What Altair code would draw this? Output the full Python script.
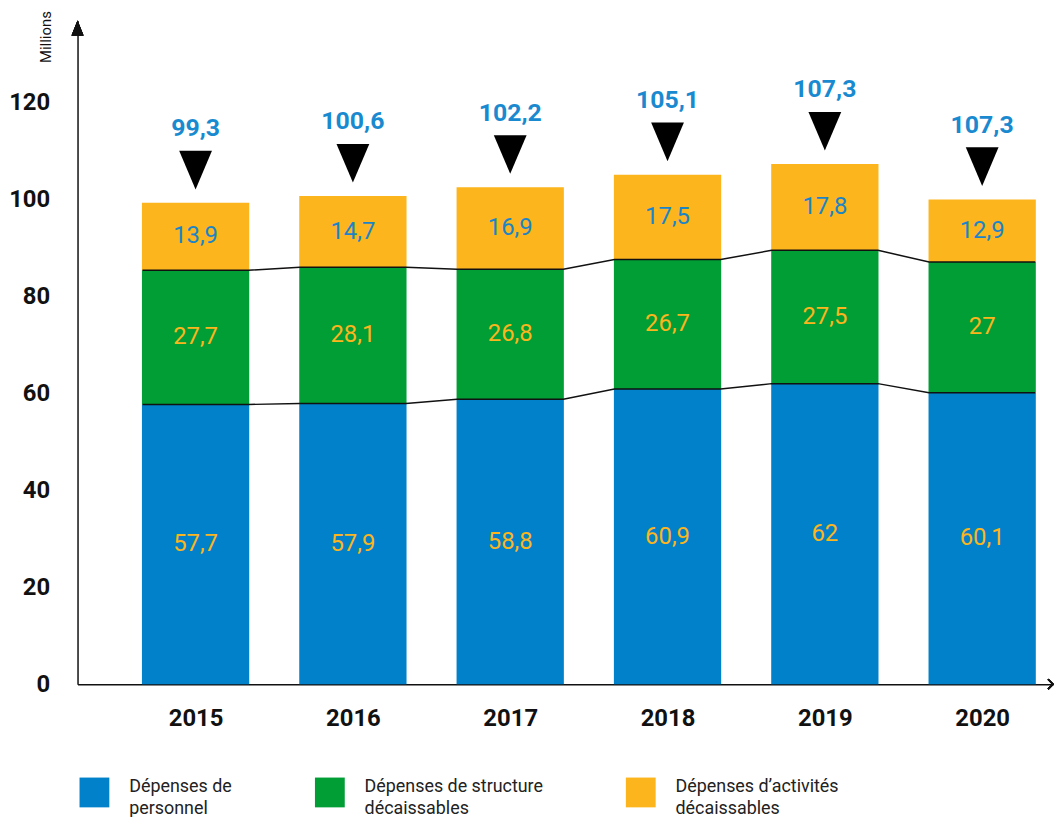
import altair as alt
import pandas as pd

FONT = "Roboto, Liberation Sans, sans-serif"

years = ["2015", "2016", "2017", "2018", "2019", "2020"]
personnel = [57.7, 57.9, 58.8, 60.9, 62.0, 60.1]
structure = [27.7, 28.1, 26.8, 26.7, 27.5, 27.0]
activites = [13.9, 14.7, 16.9, 17.5, 17.8, 12.9]
totaux = [99.3, 100.6, 102.2, 105.1, 107.3, 107.3]
categories = ["Dépenses de|personnel",
              "Dépenses de structure|décaissables",
              "Dépenses d’activités|décaissables"]
colors = ["#0081c9", "#009e35", "#fcb51c"]
label_colors = ["#fcb51c", "#fcb51c", "#1a84c8"]
ytick_values = [0, 20, 40, 60, 80, 100, 120]

HALF = 0.3375  # half bar width in index units (bar width / step)


def fr(v):
    return f"{v:g}".replace(".", ",")


series = [personnel, structure, activites]
rows = []
for i, y in enumerate(years):
    lo = 0.0
    for k, cat in enumerate(categories):
        v = series[k][i]
        hi = lo + v
        rows.append(dict(year=y, idx=i, cat=cat, lo=lo, hi=hi, mid=(lo + hi) / 2,
                         label=fr(v), lcolor=label_colors[k], order=k))
        lo = hi
bars_df = pd.DataFrame(rows)

line_rows = []
for i in range(len(years)):
    c1 = personnel[i]
    c2 = personnel[i] + structure[i]
    for e in (-HALF, HALF):
        line_rows.append(dict(x=i + e, y1=c1, y2=c2))
lines_df = pd.DataFrame(line_rows)

top_df = pd.DataFrame(dict(
    idx=list(range(len(years))),
    top=[personnel[i] + structure[i] + activites[i] for i in range(len(years))],
    label=[fr(t) for t in totaux],
))

xscale = alt.Scale(domain=[-0.71875, 5.41875], nice=False, zero=False)
yscale = alt.Scale(domain=[0, 668 / 4.88], nice=False)

xaxis = alt.Axis(values=list(range(len(years))), labelExpr=f"{years}[datum.value]",
                 title=None, ticks=False, grid=False, labelFontSize=24,
                 labelFontWeight="bold", labelPadding=23, labelColor="#111",
                 domainColor="#111", domainWidth=1.5)
yaxis = alt.Axis(values=ytick_values, title="Millions", ticks=False, grid=False,
                 labelFontSize=24, labelFontWeight="bold", labelPadding=28,
                 labelColor="#111", domainColor="#111", domainWidth=1.5,
                 titleAngle=270, titleAlign="right", titleBaseline="alphabetic",
                 titleX=-27, titleY=-10, titleFontSize=15, titleFontWeight="normal",
                 titleColor="#111")

bars = alt.Chart(bars_df).mark_bar(width=108).encode(
    x=alt.X("idx:Q", scale=xscale, axis=xaxis),
    y=alt.Y("lo:Q", scale=yscale, axis=yaxis),
    y2="hi:Q",
    color=alt.Color("cat:N", scale=alt.Scale(domain=categories, range=colors),
                    legend=alt.Legend(orient="none", legendX=2, legendY=762,
                                      direction="horizontal", title=None,
                                      symbolType="square", symbolSize=900,
                                      symbolStrokeWidth=0, symbolOpacity=1,
                                      labelExpr="split(datum.label, '|')",
                                      labelFontSize=18, labelFont=FONT,
                                      labelColor="#222",
                                      labelBaseline="alphabetic",
                                      labelOffset=20, columnPadding=83,
                                      labelLimit=400, padding=0)),
    order=alt.Order("order:Q"),
)

seg_text = alt.Chart(bars_df).mark_text(fontSize=24, baseline="middle").encode(
    x="idx:Q", y="mid:Q", text="label:N",
    color=alt.Color("lcolor:N", scale=None),
)

line1 = alt.Chart(lines_df).mark_line(color="#111", strokeWidth=1.5).encode(
    x="x:Q", y="y1:Q", order="x:Q")
line2 = alt.Chart(lines_df).mark_line(color="#111", strokeWidth=1.5).encode(
    x="x:Q", y="y2:Q", order="x:Q")

tri = alt.Chart(top_df).mark_point(
    shape="M-1,-1.18L1,-1.18L0,1.18Z", size=1089, filled=True,
    color="#000", opacity=1, yOffset=-33).encode(x="idx:Q", y="top:Q")

tot_text = alt.Chart(top_df).mark_text(
    fontSize=25, fontWeight="bold", color="#1a8ad0", baseline="alphabetic",
    dy=-67).encode(x="idx:Q", y="top:Q", text="label:N")

yarrow = alt.Chart(top_df).mark_point(
    shape="M0,-1.25L-1,1.25L1,1.25Z", size=144, filled=True, color="#111",
    opacity=1).encode(x=alt.value(0), y=alt.value(7.5))
xarrow = alt.Chart(top_df).mark_point(
    shape="M-1,-2L1,0L-1,2", size=25, filled=False, color="#111",
    strokeWidth=1.5, opacity=1).encode(x=alt.value(979.5), y=alt.value(668))

chart = alt.layer(bars, line1, line2, seg_text, tri, tot_text, yarrow, xarrow).properties(
    width=982, height=668,
    autosize=alt.AutoSizeParams(type="none"),
    padding={"left": 70, "top": 10, "right": 2, "bottom": 131},
).configure(font=FONT, style={"guide-label": {"lineHeight": 22}}).configure_view(stroke=None)

chart.save("out.html", embed_options={"renderer": "svg", "actions": False})
